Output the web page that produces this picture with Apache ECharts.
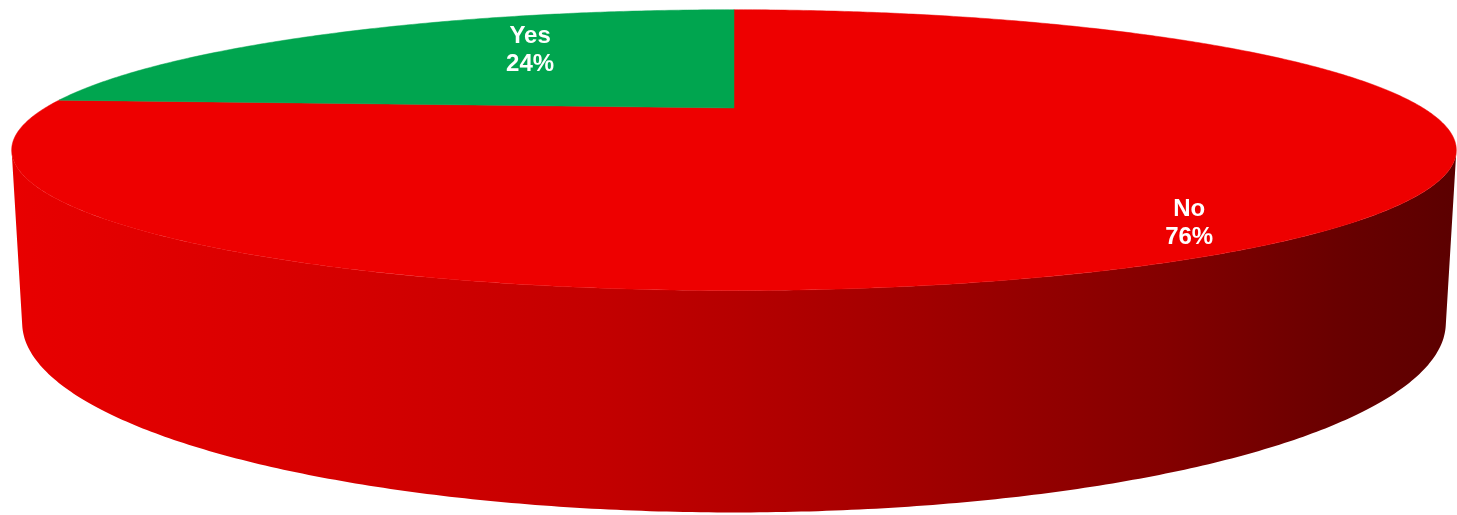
<!DOCTYPE html>
<html>
<head>
<meta charset="utf-8">
<script src="https://cdn.jsdelivr.net/npm/echarts@6/dist/echarts.min.js"></script>
<style>
  html, body { margin: 0; padding: 0; background: #ffffff; }
  #chart { width: 1457px; height: 515px; }
</style>
</head>
<body>
<div id="chart"></div>
<script>
// Survey answers, drawn as a tilted 3D pie
const categories = ['No', 'Yes'];
const values = [76, 24];
const sliceColors = ['#ee0000', '#00a54f'];

// Camera for the perspective view of the pie (unit distance to the pie centre)
const view = {
  cx: 734, cy: 108,      // screen position of the pie centre
  focal: 2257,           // focal length in px
  radius: 0.3053,        // pie radius in world units
  depth: 0.0725,         // thickness of the pie
  tilt: Math.asin(0.1854)
};
// Label nudges (px) from the projected mid-angle anchor
const labelShift = { No: [32, 32], Yes: [100, 2] };

const sinT = Math.sin(view.tilt), cosT = Math.cos(view.tilt);

// phi: angle clockwise from the back (12 o'clock), r: fraction of the radius, h: height
function project(phi, r, h) {
  const x = view.radius * r * Math.sin(phi);
  const z = view.radius * r * Math.cos(phi);
  const yv = cosT * h + sinT * z;
  const d = 1 + cosT * z - sinT * h;
  return [view.cx + view.focal * x / d, view.cy - view.focal * yv / d];
}

const total = values.reduce((a, b) => a + b, 0);
const starts = [];
values.reduce((acc, v, i) => { starts[i] = acc; return acc + v; }, 0);

// Side wall faces the camera where cos(phi) < -R / cos(tilt)
const sideLimit = Math.acos(-view.radius / cosT);

const sideGradient = new echarts.graphic.LinearGradient(12, 0, 1452, 0, [
  { offset: 0.00, color: '#e80000' },
  { offset: 0.20, color: '#d80000' },
  { offset: 0.40, color: '#c40000' },
  { offset: 0.50, color: '#b60000' },
  { offset: 0.65, color: '#9e0000' },
  { offset: 0.80, color: '#840000' },
  { offset: 0.92, color: '#690000' },
  { offset: 1.00, color: '#5c0000' }
], true);

function arcPoints(a0, a1, r, h) {
  const pts = [];
  const n = Math.max(2, Math.ceil((a1 - a0) / (Math.PI / 360)));
  for (let k = 0; k <= n; k++) pts.push(project(a0 + (a1 - a0) * k / n, r, h));
  return pts;
}

function renderItem(params, api) {
  const i = params.dataIndex;
  const a0 = starts[i] / total * Math.PI * 2;
  const a1 = (starts[i] + values[i]) / total * Math.PI * 2;
  const children = [];

  // visible part of the outer wall
  const s0 = Math.max(a0, sideLimit), s1 = Math.min(a1, Math.PI * 2 - sideLimit);
  if (s1 > s0) {
    const top = arcPoints(s0, s1, 1, 0);
    const bottom = arcPoints(s0, s1, 1, -view.depth).reverse();
    children.push({
      type: 'polygon', z2: 1,
      shape: { points: top.concat(bottom) },
      style: { fill: sideGradient, stroke: null }
    });
  }

  // top face of the slice
  const face = [project(0, 0, 0)].concat(arcPoints(a0, a1, 1, 0));
  children.push({
    type: 'polygon', z2: 5,
    shape: { points: face },
    style: { fill: sliceColors[i], stroke: sliceColors[i], lineWidth: 0.5 }
  });

  // label: category and share
  const mid = (a0 + a1) / 2;
  const anchor = project(mid, 0.75, 0);
  const shift = labelShift[categories[i]] || [0, 0];
  const pct = Math.round(values[i] / total * 100) + '%';
  children.push({
    type: 'text', z2: 10,
    x: anchor[0] + shift[0], y: anchor[1] + shift[1],
    style: {
      text: categories[i] + '\n' + pct,
      fill: '#ffffff',
      font: 'bold 24px "Liberation Sans", Arial, sans-serif',
      align: 'center', verticalAlign: 'middle',
      textAlign: 'center', textVerticalAlign: 'middle',
      lineHeight: 28
    }
  });

  return { type: 'group', children: children };
}

const chart = echarts.init(document.getElementById('chart'), null, { renderer: 'canvas' });
chart.setOption({
  backgroundColor: '#ffffff',
  animation: false,
  series: [{
    type: 'custom',
    coordinateSystem: 'none',
    renderItem: renderItem,
    data: values.map((v, i) => ({ name: categories[i], value: v }))
  }]
});
</script>
</body>
</html>
